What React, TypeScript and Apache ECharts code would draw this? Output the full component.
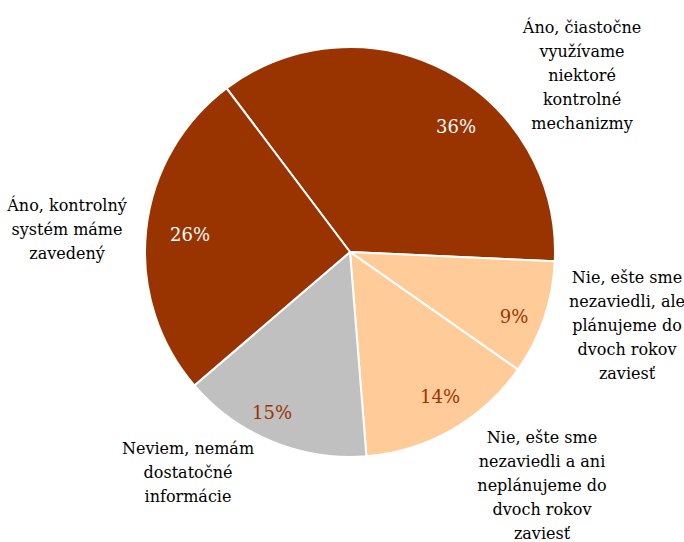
import React, { useEffect, useRef } from "react";
import * as echarts from "echarts";

const categories = [
  "Áno, čiastočne\nvyužívame\nniektoré\nkontrolné\nmechanizmy",
  "Nie, ešte sme\nnezaviedli, ale\nplánujeme do\ndvoch rokov\nzaviesť",
  "Nie, ešte sme\nnezaviedli a ani\nneplánujeme do\ndvoch rokov\nzaviesť",
  "Neviem, nemám\ndostatočné\ninformácie",
  "Áno, kontrolný\nsystém máme\nzavedený",
];
const values = [36, 9, 14, 15, 26];
const colors = ["#993300", "#FFCC99", "#FFCC99", "#C0C0C0", "#993300"];
const pctColors = ["#FFFFFF", "#993300", "#993300", "#993300", "#FFFFFF"];

// label anchor positions (layout only)
const pctPos = [
  [456, 126],
  [514, 316],
  [440, 396],
  [272, 412],
  [190, 234],
];
const namePos = [
  [582, 75],
  [627, 325],
  [542, 485],
  [188, 472],
  [67, 229],
];

const FONT = "DejaVu Serif";

export default function App() {
  const ref = useRef<HTMLDivElement>(null);
  useEffect(() => {
    document.body.style.margin = "0";
    const chart = echarts.init(ref.current!, undefined, { renderer: "svg" });
    chart.setOption({
      animation: false,
      backgroundColor: "#FFFFFF",
      textStyle: { fontFamily: FONT },
      series: [
        {
          type: "pie",
          center: [350, 252],
          radius: 205,
          startAngle: 127,
          clockwise: true,
          avoidLabelOverlap: false,
          itemStyle: { borderColor: "#FFFFFF", borderWidth: 2 },
          label: {
            show: true,
            position: "inside",
            formatter: (p: any) => p.value + "%",
            fontFamily: FONT,
            fontSize: 18,
          },
          labelLine: { show: false },
          labelLayout: (p: any) => ({
            x: pctPos[p.dataIndex][0],
            y: pctPos[p.dataIndex][1],
            align: "center",
            verticalAlign: "middle",
          }),
          emphasis: { disabled: true },
          data: values.map((v, i) => ({
            name: categories[i],
            value: v,
            itemStyle: { color: colors[i] },
            label: { color: pctColors[i] },
          })),
        },
        {
          type: "pie",
          center: [350, 252],
          radius: 205,
          startAngle: 127,
          clockwise: true,
          silent: true,
          avoidLabelOverlap: false,
          itemStyle: { color: "rgba(0,0,0,0)", borderWidth: 0 },
          label: {
            show: true,
            position: "inside",
            formatter: (p: any) => p.name,
            fontFamily: FONT,
            fontSize: 16,
            lineHeight: 24,
            color: "#000000",
            align: "center",
          },
          labelLine: { show: false },
          labelLayout: (p: any) => ({
            x: namePos[p.dataIndex][0],
            y: namePos[p.dataIndex][1],
            align: "center",
            verticalAlign: "middle",
          }),
          emphasis: { disabled: true },
          data: values.map((v, i) => ({ name: categories[i], value: v })),
        },
      ],
    });
    return () => chart.dispose();
  }, []);
  return <div ref={ref} style={{ width: 684, height: 542 }} />;
}
